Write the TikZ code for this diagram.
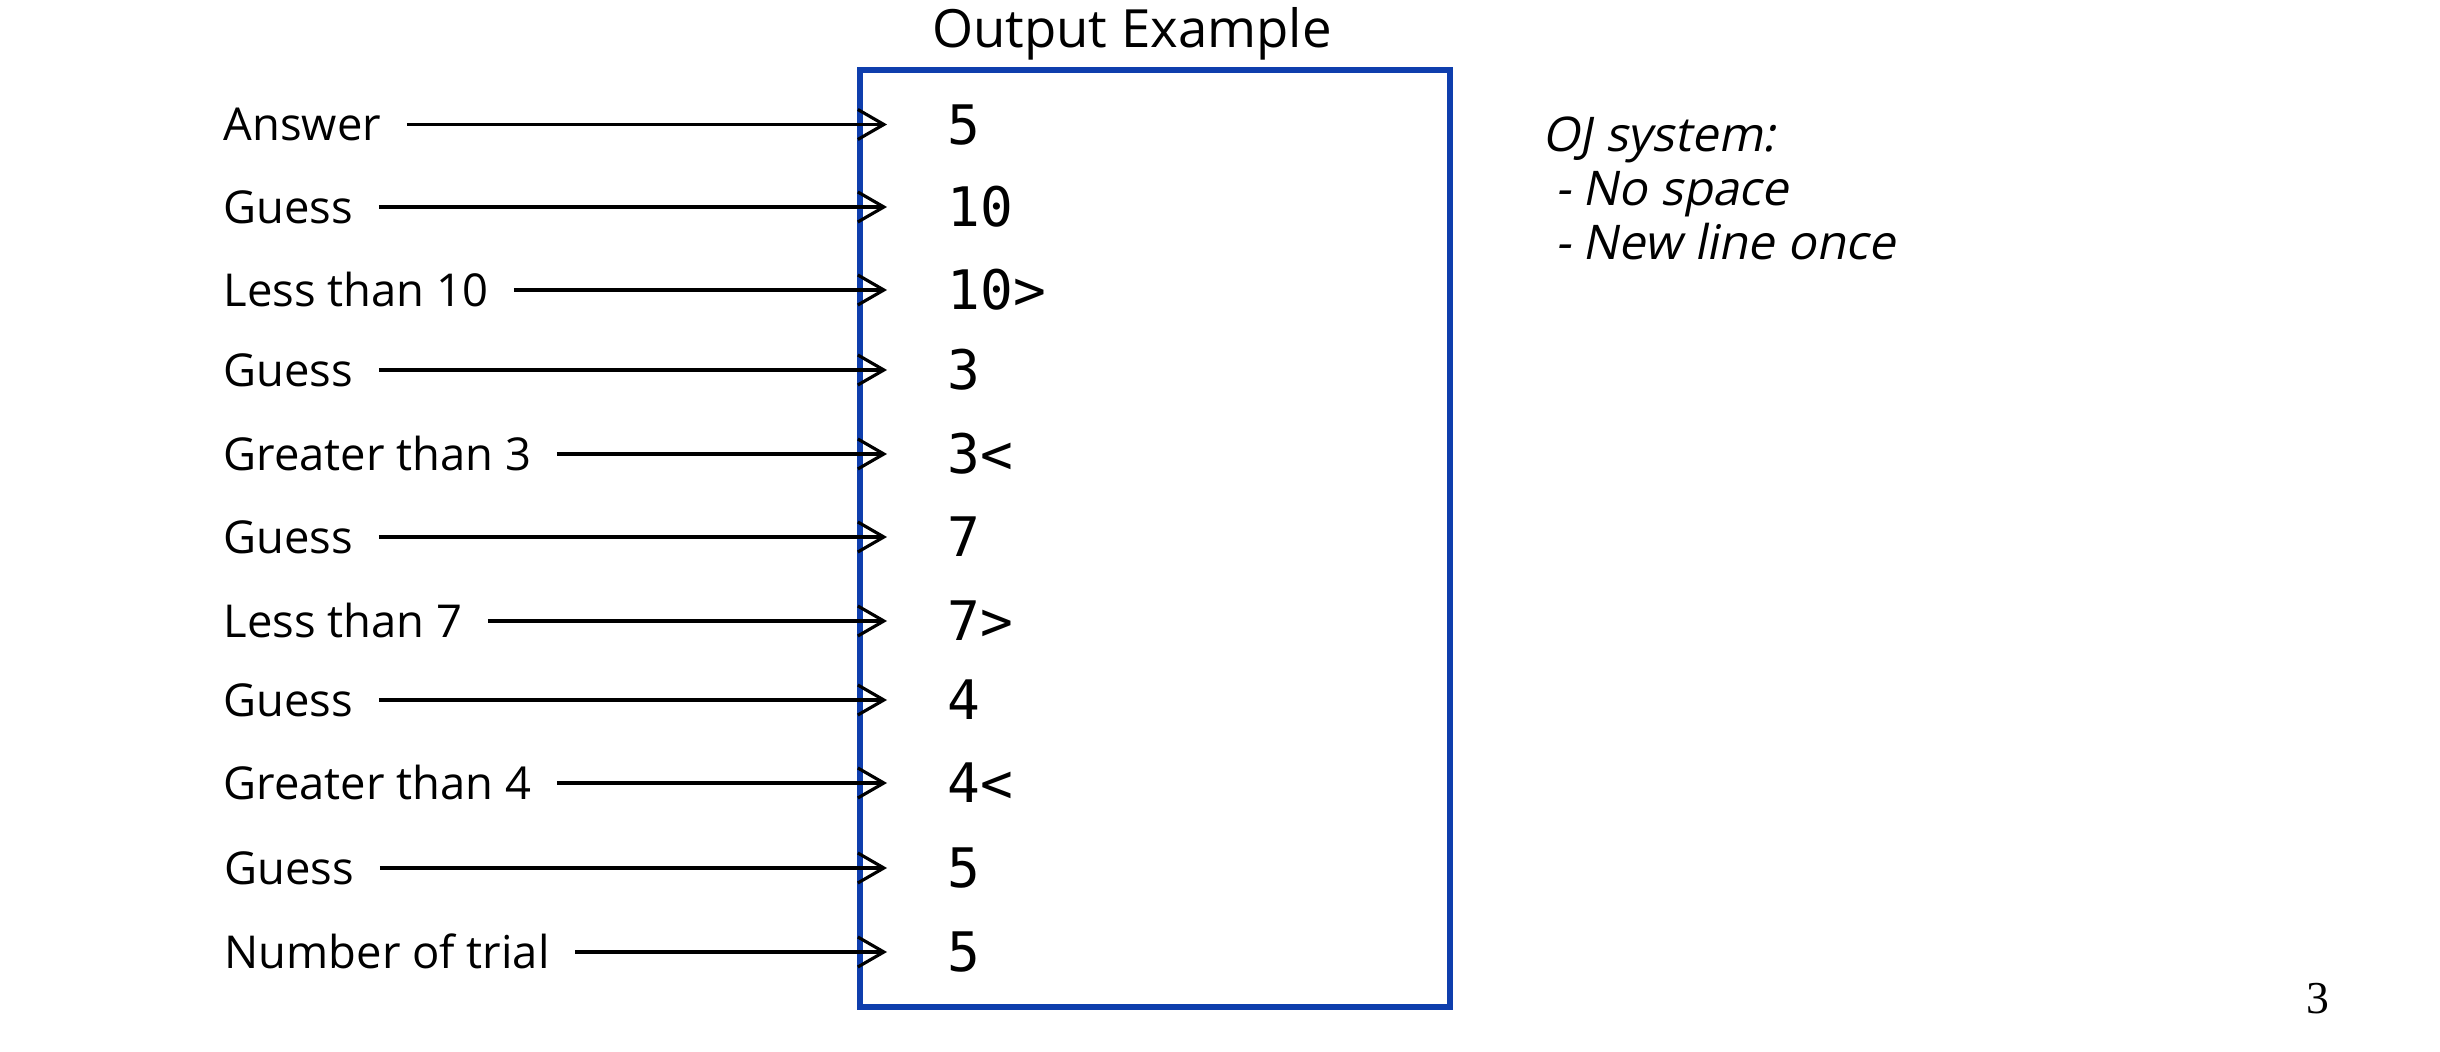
\documentclass[tikz,border=0pt]{standalone}
\usepackage{fontspec}
\usepackage{xcolor}
\usepackage{tikz}
\usetikzlibrary{arrows.meta}
\setmainfont{Open Sans}
\newfontfamily\codefont{DejaVu Sans Mono}
\newfontfamily\notefont[FakeSlant=0.2]{Open Sans}
\newfontfamily\pagefont{Liberation Serif}
\definecolor{boxblue}{RGB}{14,62,173}

\begin{document}
\begin{tikzpicture}
			\tikzstyle{desc} = [anchor=west, inner xsep=2.5mm, inner ysep=0pt, text height=3.3mm, text depth=0pt, font=\fontsize{12.9}{15}\selectfont]
			\tikzstyle{printed} = [anchor=west, inner xsep=6mm, inner ysep=0pt, text height=4mm, text depth=0pt, font=\codefont\fontsize{15.5}{18}\selectfont]
			\tikzstyle{screen} = [draw=boxblue, line width=1.9pt, minimum width=5.9cm, minimum height=9.37cm, inner sep=0pt]
			\tikzset{edge/.style = {-{Straight Barb[length=2.6mm,width=3mm]}, line width=0.9pt}}
			
			\useasboundingbox (0,0) rectangle (24.4,-10.52);
			
			% output box
			\node[font=\fontsize{15}{18}\selectfont, anchor=base](title) at (11.32,-0.48) {Output Example};
			\node[screen](box) at (11.55,-5.385) {};
			
			% answer + guesses
			\node[desc](answer)  at (1.98,-1.245) {Answer};
			\node[printed](out1) at (8.87,-1.245) {5};
			\node[desc](guess1)  at (1.98,-2.07) {Guess};
			\node[printed](out2) at (8.87,-2.07) {10};
			\node[desc](less10)  at (1.98,-2.90) {Less than 10};
			\node[printed](out3) at (8.87,-2.90) {10>};
			\node[desc](guess2)  at (1.98,-3.70) {Guess};
			\node[printed](out4) at (8.87,-3.70) {3};
			\node[desc](greater3) at (1.98,-4.54) {Greater than 3};
			\node[printed](out5) at (8.87,-4.54) {3<};
			\node[desc](guess3)  at (1.98,-5.37) {Guess};
			\node[printed](out6) at (8.87,-5.37) {7};
			\node[desc](less7)   at (1.98,-6.21) {Less than 7};
			\node[printed](out7) at (8.87,-6.21) {7>};
			\node[desc](guess4)  at (1.98,-7.00) {Guess};
			\node[printed](out8) at (8.87,-7.00) {4};
			\node[desc](greater4) at (1.98,-7.83) {Greater than 4};
			\node[printed](out9) at (8.87,-7.83) {4<};
			\node[desc](guess5)  at (1.99,-8.68) {Guess};
			\node[printed](out10) at (8.87,-8.68) {5};
			\node[desc](trials)  at (1.99,-9.52) {Number of trial};
			\node[printed](out11) at (8.87,-9.52) {5};
			
			\draw[edge](answer)   to (out1);
			\draw[edge](guess1)   to (out2);
			\draw[edge](less10)   to (out3);
			\draw[edge](guess2)   to (out4);
			\draw[edge](greater3) to (out5);
			\draw[edge](guess3)   to (out6);
			\draw[edge](less7)    to (out7);
			\draw[edge](guess4)   to (out8);
			\draw[edge](greater4) to (out9);
			\draw[edge](guess5)   to (out10);
			\draw[edge](trials)   to (out11);
			
			% note
			\node[anchor=base west, align=left, inner sep=0pt, font=\notefont\fontsize{13.6}{15.5}\selectfont](oj) at (15.42,-2.60) {OJ system:\\\ - No space\\\ - New line once};
			
			\node[font=\pagefont\fontsize{13}{15}\selectfont](page) at (23.18,-9.99) {3};
\end{tikzpicture}
\end{document}
